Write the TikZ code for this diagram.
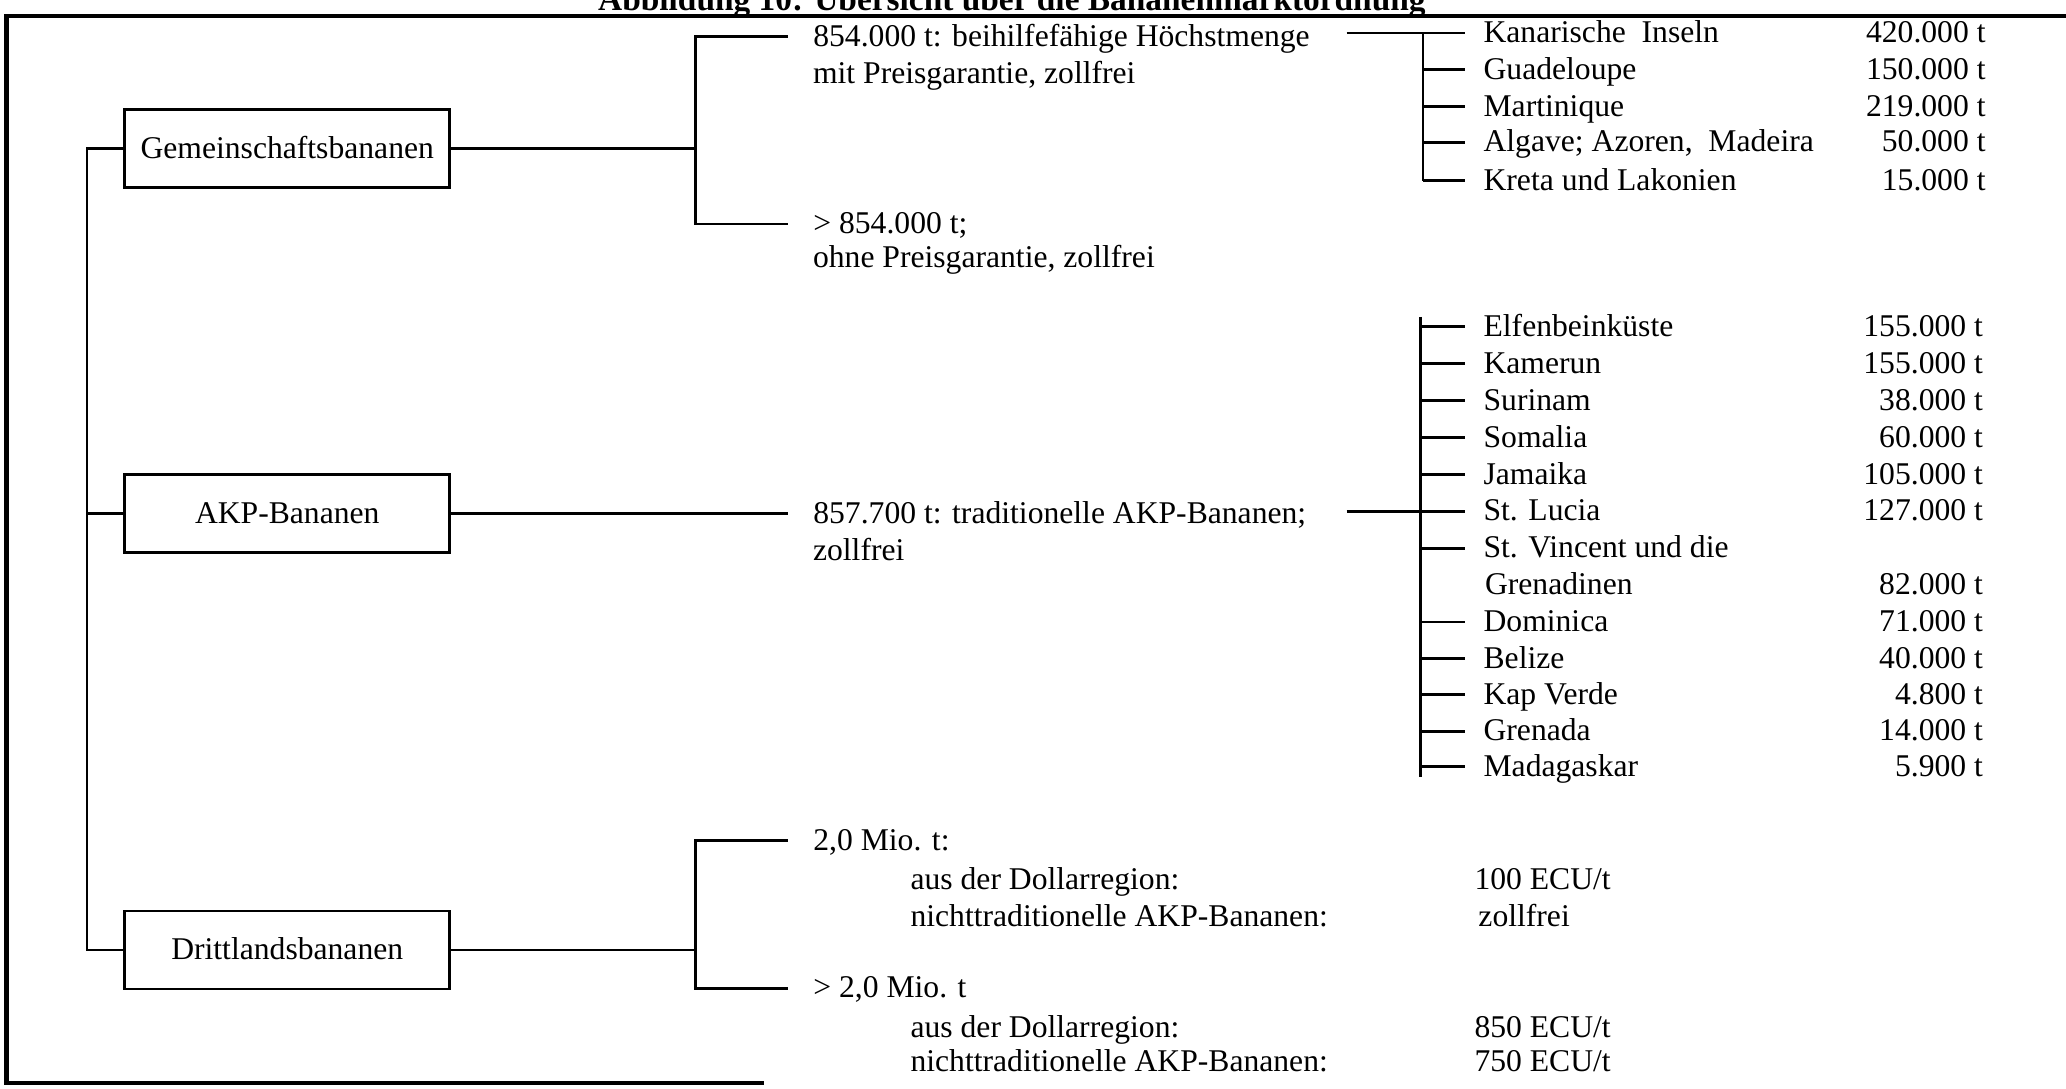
\documentclass[tikz,border=0pt]{standalone}
\usepackage{fontspec}
\setmainfont{Liberation Serif}
\begin{document}
\begin{tikzpicture}
	[x=0.13176mm, y=-0.13176mm, line width=0.8pt,
	every node/.style={font=\fontsize{9}{10}\selectfont, inner sep=0pt, text height=7pt, text depth=1.5pt},
	box/.style={draw, minimum width=32.5mm, minimum height=7.8mm},
	lbl/.style={anchor=west, inner xsep=2.4mm},
	land/.style={anchor=west, inner xsep=1.7mm},
	amt/.style={anchor=east}]
	\useasboundingbox (0,0) rectangle (1568,826);
	
	% frame and title
	\draw[line width=1.3pt] (1568,12) -- (5,12) -- (5,822) -- (580,822);
	\node[anchor=base, font=\bfseries\fontsize{9.5}{11}\selectfont] (title) at (768,8) {Abbildung 10: Übersicht über die Bananenmarktordnung};
	
	% the three kinds of bananas
	\node[box] (g) at (218,113) {Gemeinschaftsbananen};
	\node[box] (a) at (218,390) {AKP-Bananen};
	\node[box] (d) at (218,721) {Drittlandsbananen};
	\coordinate (t1) at (66,113);
	\coordinate (t2) at (66,390);
	\coordinate (t3) at (66,721);
	\draw (g) -- (t1) -- (t3) -- (d);
	\draw (t2) -- (a);
	
	% Gemeinschaftsbananen
	\coordinate (gj) at (528,113);
	\node[lbl] (g1) at (598,28) {854.000 t: beihilfefähige Höchstmenge};
	\node[anchor=west] (g1b) at (616,56) {mit Preisgarantie, zollfrei};
	\node[lbl] (g2) at (598,170) {> 854.000 t;};
	\node[anchor=west] (g2b) at (616,196) {ohne Preisgarantie, zollfrei};
	\draw (g) -- (gj);
	\draw (g1.west) -| (gj) |- (g2.west);
	
	\coordinate (gk) at (1022,25);
	\coordinate (kx) at (1080,0);
	\foreach \n/\y/\name/\menge in {1/25/Kanarische~~Inseln/420.000 t, 2/53/Guadeloupe/150.000 t,
		3/81/Martinique/219.000 t, 4/108/{Algave; Azoren,~~Madeira}/50.000 t, 5/137/Kreta und Lakonien/15.000 t}
	{
		\node[land] (k\n) at (1112,\y) {\name};
		\node[amt] (km\n) at (1508,\y) {\menge};
		\draw (k\n.west -| kx) -- (k\n.west);
	}
	\draw (gk) -- (k1.west -| kx);
	\draw (k1.west -| kx) -- (k5.west -| kx);
	
	% AKP-Bananen
	\node[lbl] (a1) at (598,390) {857.700 t: traditionelle AKP-Bananen;};
	\node[anchor=west] (a1b) at (616,418) {zollfrei};
	\draw (a) -- (a1.west);
	
	\coordinate (aj) at (1022,388);
	\coordinate (ax) at (1078,0);
	\foreach \n/\y/\name in {1/248/Elfenbeinküste, 2/276/Kamerun, 3/304/Surinam, 4/332/Somalia,
		5/360/Jamaika, 6/388/St. Lucia, 7/416/St. Vincent und die, 8/472/Dominica,
		9/500/Belize, 10/527/Kap Verde, 11/555/Grenada, 12/582/Madagaskar}
	{
		\node[land] (s\n) at (1112,\y) {\name};
		\draw (s\n.west -| ax) -- (s\n.west);
	}
	\node[anchor=west] (s7b) at (1126,444) {Grenadinen};
	\foreach \y/\menge in {248/155.000 t, 276/155.000 t, 304/38.000 t, 332/60.000 t, 360/105.000 t,
		388/127.000 t, 444/82.000 t, 472/71.000 t, 500/40.000 t, 527/4.800 t, 555/14.000 t, 582/5.900 t}
		\node[amt] (m\y) at (1506,\y) {\menge};
	\draw (aj) -- (s6.west -| ax);
	\draw[shorten <=-1mm, shorten >=-1mm] (s1.west -| ax) -- (s12.west -| ax);
	
	% Drittlandsbananen
	\coordinate (dj) at (528,721);
	\node[lbl] (d1) at (598,638) {2,0 Mio. t:};
	\node[anchor=west] (d1a) at (690,668) {aus der Dollarregion:};
	\node[anchor=west] (d1b) at (690,696) {nichttraditionelle AKP-Bananen:};
	\node[anchor=west] (d1c) at (1118,668) {100 ECU/t};
	\node[anchor=west] (d1d) at (1121,696) {zollfrei};
	\node[lbl] (d2) at (598,750) {> 2,0 Mio. t};
	\node[anchor=west] (d2a) at (690,780) {aus der Dollarregion:};
	\node[anchor=west] (d2b) at (690,806) {nichttraditionelle AKP-Bananen:};
	\node[anchor=west] (d2c) at (1118,780) {850 ECU/t};
	\node[anchor=west] (d2d) at (1118,806) {750 ECU/t};
	\draw (d) -- (dj);
	\draw (d1.west) -| (dj) |- (d2.west);
\end{tikzpicture}
\end{document}
